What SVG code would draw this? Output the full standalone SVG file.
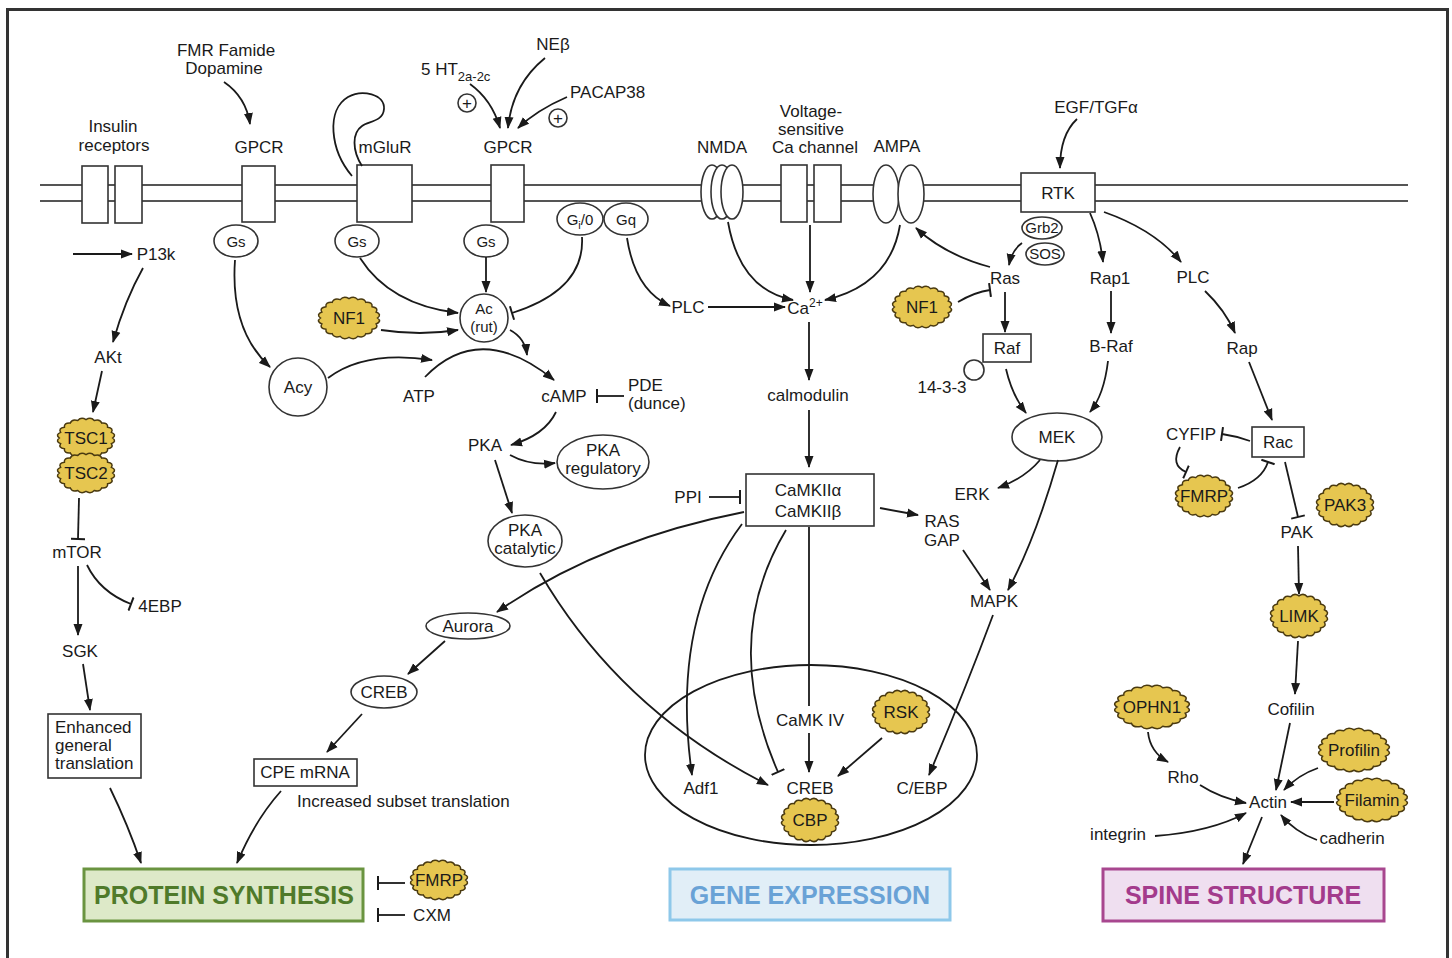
<svg xmlns="http://www.w3.org/2000/svg" xmlns:xlink="http://www.w3.org/1999/xlink" width="1452" height="958" viewBox="0 0 1452 958">
<style>
text{font-family:"Liberation Sans",Arial,sans-serif;font-size:17px;fill:#1a1a1a;text-anchor:middle}
.sm{font-size:15px}
.l{text-anchor:start}
.c{fill:none;stroke:#1a1a1a;stroke-width:1.8}
.a{marker-end:url(#arr)}
.t{marker-end:url(#tee)}
.sh{fill:#fff;stroke:#333;stroke-width:1.6}
.mem{stroke:#555;stroke-width:2}
.big{font-size:25px;font-weight:bold}
</style>
<defs>
<marker id="arr" markerUnits="userSpaceOnUse" markerWidth="12" markerHeight="10" refX="11" refY="5" orient="auto" viewBox="0 0 12 10"><path d="M0,0.5 L12,5 L0,9.5 z" fill="#1a1a1a"/></marker>
<marker id="tee" markerUnits="userSpaceOnUse" markerWidth="4" markerHeight="14" refX="2" refY="7" orient="auto" viewBox="0 0 4 14"><path d="M2,0 V14" stroke="#1a1a1a" stroke-width="2"/></marker>
<path id="blob" fill="#e6c650" stroke="#4a3a10" stroke-width="1.5" vector-effect="non-scaling-stroke" d="M92,0 Q106.7,16.9 87.5,28.4 Q96.2,49 74.4,54.1 Q76.4,76.4 54.1,74.4 Q49,96.2 28.4,87.5 Q16.9,106.7 0,92 Q-16.9,106.7 -28.4,87.5 Q-49,96.2 -54.1,74.4 Q-76.4,76.4 -74.4,54.1 Q-96.2,49 -87.5,28.4 Q-106.7,16.9 -92,0 Q-106.7,-16.9 -87.5,-28.4 Q-96.2,-49 -74.4,-54.1 Q-76.4,-76.4 -54.1,-74.4 Q-49,-96.2 -28.4,-87.5 Q-16.9,-106.7 0,-92 Q16.9,-106.7 28.4,-87.5 Q49,-96.2 54.1,-74.4 Q76.4,-76.4 74.4,-54.1 Q96.2,-49 87.5,-28.4 Q106.7,-16.9 92,0Z"/>
</defs>
<rect x="0" y="0" width="1452" height="958" fill="#fff"/>
<rect x="7.5" y="9.5" width="1440" height="980" fill="none" stroke="#333" stroke-width="3"/>
<g id="membrane">
<line class="mem" x1="40" y1="185" x2="1408" y2="185"/>
<line class="mem" x1="40" y1="201" x2="1408" y2="201"/>
</g>
<g id="insulin-receptors">
<rect class="sh" x="82" y="166" width="26" height="57"/>
<rect class="sh" x="115" y="166" width="27" height="57"/>
<text x="113" y="132">Insulin</text><text x="114" y="151">receptors</text>
</g>
<g id="gpcr1"><rect class="sh" x="242" y="166" width="33" height="56"/><text x="259" y="153">GPCR</text></g>
<g id="fmr"><text x="226" y="56">FMR Famide</text><text x="224" y="74">Dopamine</text></g>
<g id="gs1"><ellipse class="sh" cx="236" cy="241" rx="22" ry="16"/><text class="sm" x="236" y="247">Gs</text></g>
<g id="mglur">
<rect class="sh" x="357" y="165" width="55" height="57"/>
<path class="c" d="M352,176 C330,150 326,110 348,97 C362,89 385,94 384,109 C383,122 368,121 362,126 C352,133 352,150 362,166"/>
<text x="385" y="153">mGluR</text>
</g>
<g id="gs2"><ellipse class="sh" cx="357" cy="241" rx="22" ry="16"/><text class="sm" x="357" y="247">Gs</text></g>
<g id="gpcr2"><rect class="sh" x="491" y="165" width="33" height="57"/><text x="508" y="153">GPCR</text></g>
<g id="ht"><text class="l" x="421" y="75">5 HT<tspan font-size="13" dy="6">2a-2c</tspan></text></g>
<g id="neb"><text x="553" y="50">NEβ</text></g>
<g id="pacap"><text class="l" x="570" y="98">PACAP38</text></g>
<g id="plus1"><circle class="sh" cx="467" cy="103" r="9"/><text x="467" y="109" font-size="15">+</text></g>
<g id="plus2"><circle class="sh" cx="558" cy="118" r="9"/><text x="558" y="124" font-size="15">+</text></g>
<g id="gs3"><ellipse class="sh" cx="486" cy="241" rx="22" ry="16"/><text class="sm" x="486" y="247">Gs</text></g>
<g id="gi"><ellipse class="sh" cx="580" cy="219" rx="23" ry="16"/><text class="sm" x="580" y="225">G<tspan font-size="11" dy="4">i</tspan><tspan dy="-4">/0</tspan></text></g>
<g id="gq"><ellipse class="sh" cx="626" cy="219" rx="22" ry="16"/><text class="sm" x="626" y="225">Gq</text></g>
<g id="nmda">
<ellipse class="sh" cx="712" cy="192" rx="11" ry="27"/>
<ellipse class="sh" cx="722" cy="192" rx="11" ry="27"/>
<ellipse class="sh" cx="732" cy="192" rx="11" ry="27"/>
<text x="722" y="153">NMDA</text>
</g>
<g id="vscc">
<rect class="sh" x="781" y="165" width="26" height="57"/>
<rect class="sh" x="814" y="165" width="27" height="57"/>
<text x="811" y="117">Voltage-</text><text x="811" y="135">sensitive</text><text x="815" y="153">Ca channel</text>
</g>
<g id="ampa">
<ellipse class="sh" cx="886" cy="194" rx="13" ry="29"/>
<ellipse class="sh" cx="911" cy="194" rx="13" ry="29"/>
<text x="897" y="152">AMPA</text>
</g>
<g id="rtk"><rect class="sh" x="1021" y="173" width="74" height="39"/><text x="1058" y="199">RTK</text></g>
<g id="egf"><text x="1096" y="113">EGF/TGFα</text></g>
<g id="grb2"><ellipse class="sh" cx="1042" cy="228" rx="20" ry="11"/><text class="sm" x="1042" y="233">Grb2</text></g>
<g id="sos"><ellipse class="sh" cx="1045" cy="254" rx="19" ry="11"/><text class="sm" x="1045" y="259">SOS</text></g>
<g id="ras"><text x="1005" y="284">Ras</text></g>
<g id="nf1r"><use href="#blob" transform="translate(922,307) scale(0.3,0.21)"/><text x="922" y="313">NF1</text></g>
<g id="raf"><rect class="sh" x="983" y="334" width="48" height="28"/><text x="1007" y="354">Raf</text></g>
<g id="p1433"><circle class="sh" cx="974" cy="370" r="10"/><text x="942" y="393">14-3-3</text></g>
<g id="rap1"><text x="1110" y="284">Rap1</text></g>
<g id="braf"><text x="1111" y="352">B-Raf</text></g>
<g id="plcr"><text x="1193" y="283">PLC</text></g>
<g id="rap"><text x="1242" y="354">Rap</text></g>
<g id="mek"><ellipse class="sh" cx="1057" cy="437" rx="45" ry="24"/><text x="1057" y="443">MEK</text></g>
<g id="cyfip"><text x="1191" y="440">CYFIP</text></g>
<g id="rac"><rect class="sh" x="1252" y="427" width="52" height="30"/><text x="1278" y="448">Rac</text></g>
<g id="fmrp-r"><use href="#blob" transform="translate(1204,496) scale(0.29,0.21)"/><text x="1204" y="502">FMRP</text></g>
<g id="pak3"><use href="#blob" transform="translate(1345,505) scale(0.29,0.22)"/><text x="1345" y="511">PAK3</text></g>
<g id="pak"><text x="1297" y="538">PAK</text></g>
<g id="limk"><use href="#blob" transform="translate(1299,616) scale(0.29,0.22)"/><text x="1299" y="622">LIMK</text></g>
<g id="cofilin"><text x="1291" y="715">Cofilin</text></g>
<g id="ophn1"><use href="#blob" transform="translate(1152,707) scale(0.38,0.22)"/><text x="1152" y="713">OPHN1</text></g>
<g id="rho"><text x="1183" y="783">Rho</text></g>
<g id="profilin"><use href="#blob" transform="translate(1354,750) scale(0.36,0.22)"/><text x="1354" y="756">Profilin</text></g>
<g id="filamin"><use href="#blob" transform="translate(1372,800) scale(0.36,0.22)"/><text x="1372" y="806">Filamin</text></g>
<g id="actin"><text x="1268" y="808">Actin</text></g>
<g id="integrin"><text x="1118" y="840">integrin</text></g>
<g id="cadherin"><text x="1352" y="844">cadherin</text></g>
<g id="spine"><rect x="1103" y="869" width="281" height="52" fill="#efdff0" stroke="#a8478f" stroke-width="3"/><text class="big" x="1243" y="904" style="fill:#a33b8c">SPINE STRUCTURE</text></g>
<g id="p13k"><text x="156" y="260">P13k</text></g>
<g id="akt"><text x="108" y="363">AKt</text></g>
<g id="tsc1"><use href="#blob" transform="translate(86,438) scale(0.29,0.2)"/><text x="86" y="444">TSC1</text></g>
<g id="tsc2"><use href="#blob" transform="translate(86,473) scale(0.29,0.2)"/><text x="86" y="479">TSC2</text></g>
<g id="mtor"><text x="77" y="558">mTOR</text></g>
<g id="ebp"><text x="160" y="612">4EBP</text></g>
<g id="sgk"><text x="80" y="657">SGK</text></g>
<g id="enhanced"><rect class="sh" x="48" y="714" width="93" height="64"/><text class="l" x="55" y="733">Enhanced</text><text class="l" x="55" y="751">general</text><text class="l" x="55" y="769">translation</text></g>
<g id="protein"><rect x="84" y="869" width="279" height="52" fill="#dde9c8" stroke="#6a9440" stroke-width="3"/><text class="big" x="224" y="904" style="fill:#4f7a2a">PROTEIN SYNTHESIS</text></g>
<g id="fmrp-b"><use href="#blob" transform="translate(439,880) scale(0.29,0.2)"/><text x="439" y="886">FMRP</text></g>
<g id="cxm"><text x="432" y="921">CXM</text></g>
<g id="cpe"><rect class="sh" x="254" y="759" width="103" height="27"/><text x="305" y="778">CPE mRNA</text></g>
<g id="increased"><text class="l" x="297" y="807">Increased subset translation</text></g>
<g id="creb-l"><ellipse class="sh" cx="384" cy="692" rx="33" ry="16"/><text x="384" y="698">CREB</text></g>
<g id="aurora"><ellipse class="sh" cx="468" cy="626" rx="42" ry="13"/><text x="468" y="632">Aurora</text></g>
<g id="acy"><circle class="sh" cx="298" cy="387" r="29"/><text x="298" y="393">Acy</text></g>
<g id="nf1l"><use href="#blob" transform="translate(349,318) scale(0.31,0.21)"/><text x="349" y="324">NF1</text></g>
<g id="ac"><circle class="sh" cx="484" cy="318" r="24"/><text class="sm" x="484" y="314">Ac</text><text class="sm" x="484" y="332">(rut)</text></g>
<g id="atp"><text x="419" y="402">ATP</text></g>
<g id="camp"><text x="564" y="402">cAMP</text></g>
<g id="pde"><text class="l" x="628" y="391">PDE</text><text class="l" x="628" y="409">(dunce)</text></g>
<g id="pka"><text x="485" y="451">PKA</text></g>
<g id="pkareg"><ellipse class="sh" cx="603" cy="462" rx="46" ry="27"/><text x="603" y="456">PKA</text><text x="603" y="474">regulatory</text></g>
<g id="pkacat"><ellipse class="sh" cx="525" cy="541" rx="37" ry="26"/><text x="525" y="536">PKA</text><text x="525" y="554">catalytic</text></g>
<g id="plcl"><text x="688" y="313">PLC</text></g>
<g id="ca"><text x="805" y="314">Ca<tspan font-size="12" dy="-7">2+</tspan></text></g>
<g id="calmodulin"><text x="808" y="401">calmodulin</text></g>
<g id="camkii"><rect class="sh" x="746" y="474" width="128" height="52"/><text x="808" y="496">CaMKIIα</text><text x="808" y="517">CaMKIIβ</text></g>
<g id="ppi"><text x="688" y="503">PPI</text></g>
<g id="erk"><text x="972" y="500">ERK</text></g>
<g id="rasgap"><text x="942" y="527">RAS</text><text x="942" y="546">GAP</text></g>
<g id="mapk"><text x="994" y="607">MAPK</text></g>
<g id="nucleus"><ellipse cx="811" cy="755" rx="166" ry="90" fill="none" stroke="#1a1a1a" stroke-width="1.8"/></g>
<g id="camkiv"><text x="810" y="726">CaMK IV</text></g>
<g id="rsk"><use href="#blob" transform="translate(901,712) scale(0.29,0.22)"/><text x="901" y="718">RSK</text></g>
<g id="creb"><text x="810" y="794">CREB</text></g>
<g id="cbp"><use href="#blob" transform="translate(810,820) scale(0.29,0.22)"/><text x="810" y="826">CBP</text></g>
<g id="cebp"><text x="922" y="794">C/EBP</text></g>
<g id="adf1"><text x="701" y="794">Adf1</text></g>
<g id="gene"><rect x="670" y="869" width="280" height="51" fill="#e1eef7" stroke="#8ec8ea" stroke-width="3"/><text class="big" x="810" y="904" style="fill:#69a2d6">GENE EXPRESSION</text></g>
<g id="connectors">
<path class="c a" d="M224,82 Q246,97 250,124"/>
<path class="c a" d="M470,84 Q492,100 500,128"/>
<path class="c a" d="M545,58 Q512,85 508,128"/>
<path class="c a" d="M567,97 Q537,110 518,128"/>
<path class="c a" d="M1077,119 Q1060,135 1060,168"/>
<path class="c a" d="M73,254 L132,254"/>
<path class="c a" d="M143,268 Q125,300 113,342"/>
<path class="c a" d="M102,371 L93,412"/>
<path class="c t" d="M79,498 L78,539"/>
<path class="c t" d="M87,565 Q100,592 131,604"/>
<path class="c a" d="M78,566 L78,635"/>
<path class="c a" d="M83,664 L90,710"/>
<path class="c a" d="M110,788 Q128,825 141,863"/>
<path class="c a" d="M281,791 Q255,820 237,863"/>
<path class="c a" d="M362,714 L327,752"/>
<path class="c a" d="M445,641 L408,674"/>
<path class="c a" d="M744,512 Q600,540 497,612"/>
<path class="c a" d="M235,260 Q230,330 270,367"/>
<path class="c a" d="M328,378 Q365,350 432,360"/>
<path class="c a" d="M425,377 Q480,320 554,380"/>
<path class="c a" d="M360,258 Q390,305 458,313"/>
<path class="c a" d="M486,257 L486,292"/>
<path class="c t" d="M582,237 Q585,290 512,313"/>
<path class="c a" d="M381,330 Q420,336 458,330"/>
<path class="c a" d="M510,330 Q525,338 527,355"/>
<path class="c t" d="M624,396 L597,396"/>
<path class="c a" d="M556,412 Q545,435 511,445"/>
<path class="c a" d="M510,455 Q530,466 555,463"/>
<path class="c a" d="M495,460 L512,513"/>
<path class="c a" d="M540,573 Q620,710 768,785"/>
<path class="c a" d="M627,238 Q635,290 670,306"/>
<path class="c a" d="M708,307 L785,307"/>
<path class="c a" d="M728,222 Q740,290 793,300"/>
<path class="c a" d="M810,225 L810,292"/>
<path class="c a" d="M900,225 Q890,285 825,300"/>
<path class="c a" d="M809,322 L809,380"/>
<path class="c a" d="M809,410 L809,467"/>
<path class="c t" d="M709,497 L740,497"/>
<path class="c a" d="M880,508 L918,515"/>
<path class="c a" d="M963,550 L990,590"/>
<path class="c a" d="M1040,460 Q1025,478 998,488"/>
<path class="c a" d="M1058,460 Q1035,540 1008,590"/>
<path class="c a" d="M993,615 Q965,690 929,775"/>
<path class="c a" d="M742,524 Q670,620 692,775"/>
<path class="c t" d="M786,530 Q720,640 778,772"/>
<path class="c" d="M809,527 L809,706"/>
<path class="c a" d="M809,733 L809,772"/>
<path class="c a" d="M882,738 L838,776"/>
<path class="c a" d="M1022,243 Q1012,250 1009,265"/>
<path class="c a" d="M990,267 Q945,255 916,228"/>
<path class="c t" d="M958,302 Q975,292 990,290"/>
<path class="c a" d="M1005,292 L1005,332"/>
<path class="c a" d="M1006,369 Q1012,395 1026,413"/>
<path class="c a" d="M1090,213 Q1100,235 1103,262"/>
<path class="c a" d="M1111,291 L1111,333"/>
<path class="c a" d="M1108,361 Q1104,395 1090,412"/>
<path class="c a" d="M1104,212 Q1155,230 1181,262"/>
<path class="c a" d="M1205,291 Q1225,310 1235,333"/>
<path class="c a" d="M1249,362 L1272,420"/>
<path class="c t" d="M1250,441 Q1236,436 1222,434"/>
<path class="c t" d="M1180,447 Q1170,465 1186,472"/>
<path class="c t" d="M1238,488 Q1262,480 1268,462"/>
<path class="c t" d="M1285,462 L1298,517"/>
<path class="c a" d="M1298,546 L1299,594"/>
<path class="c a" d="M1298,641 L1295,694"/>
<path class="c a" d="M1290,723 L1276,790"/>
<path class="c a" d="M1148,732 Q1150,752 1168,762"/>
<path class="c a" d="M1200,785 Q1220,798 1246,803"/>
<path class="c a" d="M1318,768 Q1298,775 1284,790"/>
<path class="c a" d="M1334,802 L1291,802"/>
<path class="c a" d="M1317,840 Q1295,832 1281,815"/>
<path class="c a" d="M1155,836 Q1210,832 1246,813"/>
<path class="c a" d="M1262,817 L1243,864"/>
<path class="c t" d="M405,883 L378,883"/>
<path class="c t" d="M405,915 L378,915"/>
</g>
</svg>
